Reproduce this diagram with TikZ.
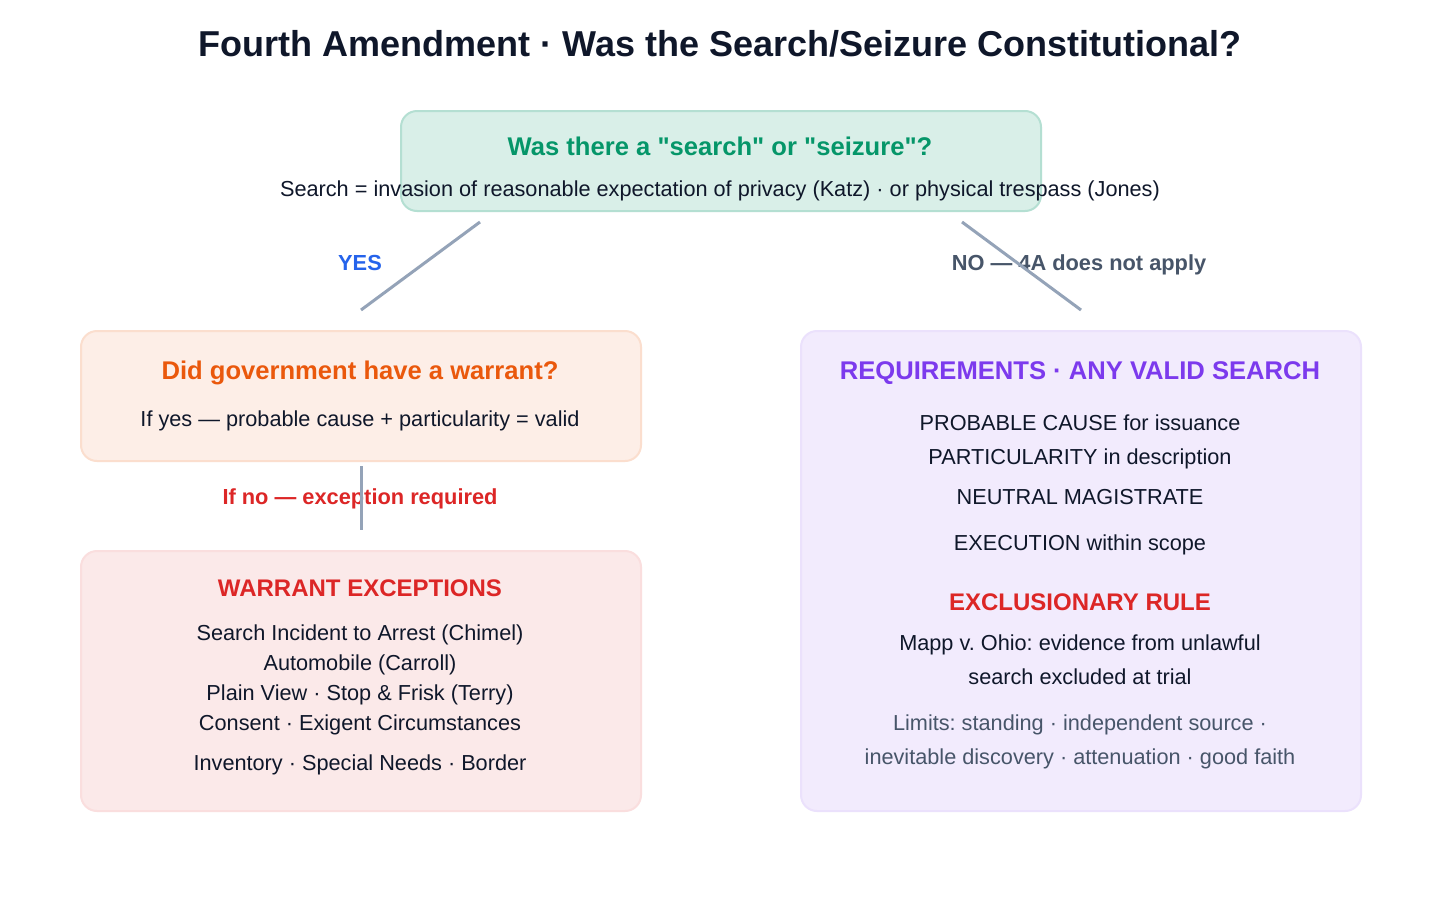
\documentclass[tikz,border=0pt]{standalone}
\usepackage{fontspec}
\setmainfont{Liberation Sans}
\usetikzlibrary{positioning}
\definecolor{ink}{HTML}{0F172A}
\definecolor{slate}{HTML}{475569}
\definecolor{edge}{HTML}{94A3B8}
\definecolor{qgreen}{HTML}{059669}
\definecolor{worange}{HTML}{EA580C}
\definecolor{xred}{HTML}{DC2626}
\definecolor{rpurple}{HTML}{7C3AED}
\definecolor{yblue}{HTML}{2563EB}

\begin{document}
\frenchspacing
\begin{tikzpicture}[
x=0.5pt, y=-0.5pt,
box/.style={rounded corners=8pt, line width=1pt, inner sep=0pt, anchor=north west},
head/.style={font=\bfseries\fontsize{12.8}{16}\selectfont, anchor=base},
subhead/.style={font=\bfseries\fontsize{12}{14}\selectfont, anchor=base},
body/.style={font=\fontsize{10.85}{13}\selectfont, text=ink, anchor=base},
tag/.style={font=\bfseries\fontsize{10.9}{13}\selectfont, anchor=base},
link/.style={draw=edge, line width=1.5pt}
]
\fill[white] (0,0) rectangle (1440,900);
\useasboundingbox (0,0) rectangle (1440,900);

\node[font=\bfseries\fontsize{18}{22}\selectfont, text=ink, anchor=base] (title) at (720,56) {Fourth Amendment · Was the Search/Seizure Constitutional?};

% boxes
\node[box, draw=qgreen!30, fill=qgreen!15, minimum width=320pt, minimum height=50pt] (q) at (400,110) {};
\node[box, draw=worange!20, fill=worange!10, minimum width=280pt, minimum height=65pt] (warrant) at (80,330) {};
\node[box, draw=xred!15, fill=xred!10, minimum width=280pt, minimum height=130pt] (exc) at (80,550) {};
\node[box, draw=rpurple!15, fill=rpurple!10, minimum width=280pt, minimum height=240pt] (req) at (800,330) {};

% question
\node[head, text=qgreen] (q-head) at (720,155) {Was there a \textquotedbl search\textquotedbl{} or \textquotedbl seizure\textquotedbl?};
\node[body] (q-text) at (720,196) {Search = invasion of reasonable expectation of privacy (Katz) · or physical trespass (Jones)};

% branch labels
\node[tag, text=yblue] (yes) at (360,270) {YES};
\node[tag, text=slate] (no) at (1079,270) {NO — 4A does not apply};
\node[tag, text=xred] (ifno) at (360,504) {If no — exception required};

% warrant
\node[head, text=worange] (w-head) at (360,379) {Did government have a warrant?};
\node[body] (w-text) at (360,426) {If yes — probable cause + particularity = valid};

% exceptions
\node[subhead, text=xred] (x-head) at (360,596) {WARRANT EXCEPTIONS};
\node[body] (x1) at (360,640) {Search Incident to Arrest (Chimel)};
\node[body] (x2) at (360,670) {Automobile (Carroll)};
\node[body] (x3) at (360,700) {Plain View · Stop \& Frisk (Terry)};
\node[body] (x4) at (360,730) {Consent · Exigent Circumstances};
\node[body] (x5) at (360,770) {Inventory · Special Needs · Border};

% requirements
\node[head, text=rpurple] (r-head) at (1080,379) {REQUIREMENTS · ANY VALID SEARCH};
\node[body] (r1) at (1080,430) {PROBABLE CAUSE for issuance};
\node[body] (r2) at (1080,464) {PARTICULARITY in description};
\node[body] (r3) at (1080,504) {NEUTRAL MAGISTRATE};
\node[body] (r4) at (1080,550) {EXECUTION within scope};
\node[subhead, text=xred] (e-head) at (1080,610) {EXCLUSIONARY RULE};
\node[body] (e1) at (1080,650) {Mapp v. Ohio: evidence from unlawful};
\node[body] (e2) at (1080,684) {search excluded at trial};
\node[body, text=slate] (l1) at (1080,730) {Limits: standing · independent source ·};
\node[body, text=slate] (l2) at (1080,764) {inevitable discovery · attenuation · good faith};

% connectors
\coordinate (yes-a) at ([shift={(80,10)}]q.south west);
\coordinate (yes-b) at ([shift={(0,-20)}]warrant.north);
\coordinate (no-a) at ([shift={(-80,10)}]q.south east);
\coordinate (no-b) at ([shift={(0,-20)}]req.north);
\coordinate (ifno-a) at ([shift={(0,4)}]warrant.south);
\coordinate (ifno-b) at ([shift={(0,-20)}]exc.north);
\draw[link] (yes-a) -- (yes-b);
\draw[link] (no-a) -- (no-b);
\draw[link] (ifno-a) -- (ifno-b);
\end{tikzpicture}
\end{document}
